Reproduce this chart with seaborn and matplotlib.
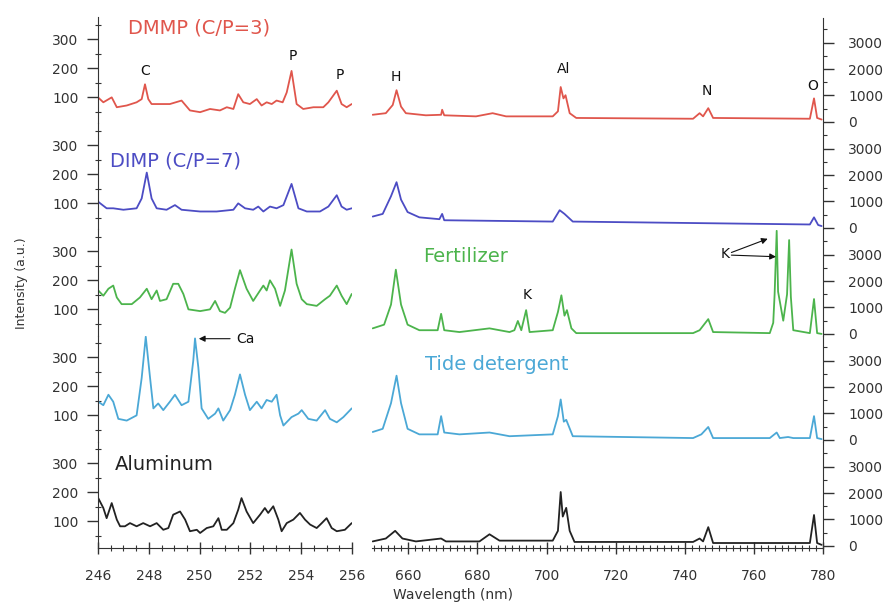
import matplotlib
matplotlib.use("Agg")
import matplotlib.pyplot as plt
from matplotlib.ticker import MultipleLocator
import pandas as pd
import seaborn as sns

# ---- spectra: 246-256 nm window (left axis, a.u.) ----
dmmp_uv_wl = [246.0, 246.21, 246.54, 246.74, 247.13, 247.52, 247.72, 247.85, 247.98, 248.11,
              248.44, 248.83, 249.29, 249.62, 250.02, 250.41, 250.80, 251.07, 251.33, 251.52,
              251.72, 251.98, 252.25, 252.44, 252.64, 252.84, 253.03, 253.27, 253.43, 253.62,
              253.82, 254.08, 254.48, 254.87, 255.07, 255.40, 255.59, 255.79, 255.99]
dmmp_uv_int = [100, 83, 100, 66, 72, 83, 94, 145, 94, 77,
               77, 77, 89, 55, 49, 60, 55, 66, 60, 111,
               83, 77, 94, 72, 83, 77, 89, 83, 117, 191,
               77, 60, 66, 66, 83, 123, 77, 66, 77]

dimp_uv_wl = [246.0, 246.34, 246.60, 247.00, 247.52, 247.72, 247.92, 248.11, 248.31, 248.70,
              249.03, 249.29, 250.02, 250.67, 251.33, 251.52, 251.79, 252.11, 252.31, 252.51,
              252.77, 253.03, 253.30, 253.62, 253.89, 254.22, 254.74, 255.07, 255.40, 255.59,
              255.79, 255.99]
dimp_uv_int = [106, 83, 83, 78, 83, 117, 206, 117, 83, 78,
               94, 78, 72, 72, 78, 100, 83, 78, 89, 72,
               89, 83, 94, 167, 83, 72, 72, 89, 128, 89,
               78, 83]

fert_uv_wl = [246.01, 246.21, 246.41, 246.60, 246.74, 246.93, 247.33, 247.65, 247.92, 248.11,
              248.31, 248.44, 248.70, 248.96, 249.16, 249.36, 249.56, 250.02, 250.41, 250.61,
              250.80, 251.00, 251.20, 251.39, 251.59, 251.85, 252.11, 252.38, 252.51, 252.64,
              252.77, 252.97, 253.17, 253.36, 253.62, 253.82, 254.02, 254.22, 254.61, 254.94,
              255.13, 255.40, 255.59, 255.79, 255.99]
fert_uv_int = [165, 147, 171, 182, 141, 118, 118, 141, 171, 135,
               165, 129, 135, 188, 188, 153, 100, 94, 100, 129,
               94, 88, 106, 171, 235, 171, 129, 165, 182, 165,
               200, 171, 112, 165, 306, 188, 135, 118, 112, 135,
               147, 182, 147, 118, 153]

tide_uv_wl = [246.01, 246.21, 246.41, 246.60, 246.80, 247.13, 247.52, 247.72, 247.88, 248.05,
              248.18, 248.37, 248.57, 248.83, 249.03, 249.29, 249.56, 249.75, 249.82, 249.95,
              250.08, 250.34, 250.61, 250.74, 250.93, 251.20, 251.39, 251.59, 251.79, 251.98,
              252.25, 252.44, 252.64, 252.84, 253.03, 253.17, 253.30, 253.62, 253.89, 254.02,
              254.28, 254.61, 254.94, 255.13, 255.40, 255.66, 255.99]
tide_uv_int = [147, 135, 171, 147, 88, 82, 100, 229, 371, 229,
               124, 141, 118, 147, 171, 135, 147, 288, 365, 265,
               124, 88, 106, 124, 82, 118, 171, 241, 171, 118,
               147, 124, 153, 147, 171, 100, 65, 94, 106, 118,
               88, 82, 118, 88, 76, 94, 124]

al_uv_wl = [246.01, 246.21, 246.34, 246.54, 246.74, 246.87, 247.06, 247.26, 247.52, 247.78,
            248.05, 248.31, 248.57, 248.77, 248.96, 249.23, 249.43, 249.62, 249.89, 250.02,
            250.28, 250.54, 250.74, 250.87, 251.07, 251.33, 251.52, 251.65, 251.85, 252.11,
            252.38, 252.57, 252.70, 252.90, 253.10, 253.23, 253.43, 253.69, 253.95, 254.15,
            254.35, 254.61, 254.81, 255.00, 255.20, 255.40, 255.72, 255.99]
al_uv_int = [180, 146, 111, 163, 106, 83, 83, 94, 83, 94,
             83, 94, 71, 77, 123, 134, 106, 66, 71, 60,
             77, 83, 111, 71, 71, 94, 140, 180, 134, 94,
             123, 146, 129, 152, 106, 66, 94, 106, 129, 106,
             89, 77, 94, 111, 77, 66, 71, 94]

# ---- spectra: 650-780 nm window (right axis, a.u.) ----
dmmp_vis_wl = [649.7, 653.5, 655.5, 656.6, 657.9, 659.3, 665.1, 669.5, 669.8, 670.4,
               679.6, 684.4, 688.3, 701.8, 703.3, 704.1, 704.9, 705.5, 706.7, 708.6,
               742.4, 744.3, 745.3, 746.8, 748.2, 776.2, 777.4, 778.3, 779.6]
dmmp_vis_int = [270, 330, 640, 1200, 580, 330, 250, 270, 460, 250,
                210, 330, 210, 210, 400, 1320, 890, 1010, 330, 150,
                120, 330, 210, 520, 150, 120, 890, 150, 90]

dimp_vis_wl = [649.7, 652.6, 655.0, 656.6, 657.9, 659.8, 663.2, 669.0, 669.8, 670.4,
               701.8, 703.8, 705.2, 707.6, 776.2, 777.4, 778.6, 779.6]
dimp_vis_int = [430, 530, 1200, 1730, 1070, 600, 400, 330, 530, 290,
                240, 670, 530, 240, 130, 400, 110, 70]

fert_vis_wl = [649.7, 653.0, 655.0, 656.4, 657.9, 659.8, 663.2, 668.5, 669.5, 670.4,
               674.8, 683.5, 689.3, 690.7, 691.7, 692.7, 694.1, 695.1, 701.8, 703.3,
               704.3, 705.2, 705.9, 707.2, 708.6, 742.4, 744.3, 746.8, 748.2, 764.6,
               765.6, 766.0, 766.6, 767.0, 768.5, 769.6, 770.2, 770.7, 771.4, 776.2,
               777.4, 778.3, 779.6]
fert_vis_int = [210, 350, 1110, 2430, 1110, 350, 140, 140, 760, 140,
                70, 210, 70, 140, 490, 140, 900, 70, 140, 830,
                1460, 690, 900, 210, 30, 30, 140, 560, 70, 30,
                420, 1500, 3900, 1600, 500, 1500, 3550, 1400, 140, 30,
                1320, 30, 0]

tide_vis_wl = [649.7, 652.6, 655.0, 656.6, 657.9, 659.8, 663.2, 668.5, 669.5, 670.4,
               674.8, 683.5, 689.3, 701.8, 703.3, 704.1, 705.0, 705.7, 707.6, 742.4,
               744.8, 746.8, 748.2, 764.6, 766.6, 767.5, 769.9, 771.4, 776.2, 777.4,
               778.3, 779.6]
tide_vis_int = [300, 420, 1390, 2430, 1390, 420, 210, 210, 900, 280,
                210, 280, 140, 210, 900, 1530, 690, 760, 140, 70,
                210, 490, 70, 70, 280, 70, 110, 70, 70, 900,
                70, 30]

al_vis_wl = [649.7, 653.5, 656.2, 658.3, 662.2, 669.5, 670.9, 680.6, 683.5, 686.4,
             701.8, 703.3, 704.1, 704.7, 705.7, 706.7, 708.1, 742.4, 744.3, 745.3,
             746.8, 748.2, 776.2, 777.4, 778.3, 779.6]
al_vis_int = [170, 280, 570, 280, 170, 280, 170, 170, 440, 200,
              200, 570, 2040, 1110, 1440, 570, 150, 150, 280, 170,
              710, 110, 110, 1170, 110, 40]

sample_names = ["DMMP (C/P=3)", "DIMP (C/P=7)", "Fertilizer", "Tide detergent", "Aluminum"]
sample_colors = ["#e0564c", "#4c4cc4", "#4cb44c", "#4ba8d6", "#222222"]

uv_series = [(dmmp_uv_wl, dmmp_uv_int), (dimp_uv_wl, dimp_uv_int), (fert_uv_wl, fert_uv_int),
             (tide_uv_wl, tide_uv_int), (al_uv_wl, al_uv_int)]
vis_series = [(dmmp_vis_wl, dmmp_vis_int), (dimp_vis_wl, dimp_vis_int), (fert_vis_wl, fert_vis_int),
              (tide_vis_wl, tide_vis_int), (al_vis_wl, al_vis_int)]

sns.set_style("ticks")
plt.rcParams["font.family"] = ["DejaVu Sans"]

W, H = 885, 603
fig = plt.figure(figsize=(W / 100, H / 100), dpi=100)

row_h = 106
tick_col = "#333333"
ax_uv, ax_vis = [], []
for r in range(5):
    bottom_px = 123.5 + row_h * r
    b = 1 - bottom_px / H
    a1 = fig.add_axes([98 / W, b, 254 / W, row_h / H])
    a2 = fig.add_axes([372 / W, b, 451 / W, row_h / H])
    for a in (a1, a2):
        a.set_facecolor("none")
    ax_uv.append(a1)
    ax_vis.append(a2)

for r in range(5):
    a1, a2 = ax_uv[r], ax_vis[r]
    wl, iv = uv_series[r]
    sns.lineplot(data=pd.DataFrame({"wl": wl, "I": iv}), x="wl", y="I", ax=a1,
                 color=sample_colors[r], lw=1.3, estimator=None, sort=False)
    wl, iv = vis_series[r]
    sns.lineplot(data=pd.DataFrame({"wl": wl, "I": iv}), x="wl", y="I", ax=a2,
                 color=sample_colors[r], lw=1.3, estimator=None, sort=False)

    a1.set_xlim(246, 256)
    a1.set_ylim(10, 375)
    a2.set_xlim(649.5, 780)
    a2.set_ylim(-60, 3950)
    for a in (a1, a2):
        a.set_xlabel("")
        a.set_ylabel("")

    # left intensity axis
    a1.spines[["top", "right"]].set_visible(False)
    a1.spines["left"].set_color("#333333")
    a1.set_yticks([100, 200, 300])
    a1.yaxis.set_minor_locator(MultipleLocator(50))
    a1.tick_params(axis="y", which="major", direction="out", length=8, width=1,
                   color=tick_col, labelsize=10, labelcolor=tick_col, pad=6)
    a1.tick_params(axis="y", which="minor", direction="inout", length=5, width=0.8,
                   color=tick_col)

    # right intensity axis
    a2.spines[["top", "left"]].set_visible(False)
    a2.spines["right"].set_color("#333333")
    a2.yaxis.tick_right()
    a2.set_yticks([0, 1000, 2000, 3000])
    a2.yaxis.set_minor_locator(MultipleLocator(500))
    a2.tick_params(axis="y", which="major", direction="out", length=8, width=1,
                   color=tick_col, labelsize=10, labelcolor=tick_col, pad=10)
    a2.tick_params(axis="y", which="minor", direction="out", length=3, width=0.8,
                   color=tick_col)

    if r < 4:
        for a in (a1, a2):
            a.spines["bottom"].set_visible(False)
            a.tick_params(axis="x", which="both", bottom=False, labelbottom=False)
    else:
        a1.set_xticks([246, 248, 250, 252, 254, 256])
        a1.xaxis.set_minor_locator(MultipleLocator(0.5))
        a2.set_xticks([660, 680, 700, 720, 740, 760, 780])
        a2.xaxis.set_minor_locator(MultipleLocator(2))
        for a in (a1, a2):
            a.spines["bottom"].set_color("#333333")
            a.tick_params(axis="x", which="major", direction="inout", length=9, width=1,
                          color=tick_col, labelsize=10, labelcolor=tick_col, pad=11)
            a.tick_params(axis="x", which="minor", direction="inout", length=5, width=0.8,
                          color=tick_col)

# sample names
name_pos = [(ax_uv[0], 0.118, 0.90), (ax_uv[1], 0.047, 0.646), (ax_vis[2], 0.113, 0.75),
            (ax_vis[3], 0.1175, 0.73), (ax_uv[4], 0.067, 0.78)]
for (a, x, y), name, col in zip(name_pos, sample_names, sample_colors):
    a.text(x, y, name, transform=a.transAxes, ha="left", va="center",
           fontsize=14, color=col)

# emission line labels
lab = dict(ha="center", va="center", fontsize=10, color="#111111")
ax_uv[0].text(247.85, 192, "C", **lab)
ax_uv[0].text(253.68, 243, "P", **lab)
ax_uv[0].text(255.53, 178, "P", **lab)
ax_vis[0].text(656.5, 1700, "H", **lab)
ax_vis[0].text(704.9, 2000, "Al", **lab)
ax_vis[0].text(746.4, 1185, "N", **lab)
ax_vis[0].text(777.1, 1370, "O", **lab)
ax_vis[2].text(694.5, 1460, "K", **lab)
ax_vis[2].text(751.6, 3040, "K", **lab)

arrow = dict(arrowstyle="-|>", color="#111111", lw=0.8, mutation_scale=9,
             shrinkA=0, shrinkB=0)
ax_vis[2].annotate("", xy=(764.0, 3600), xytext=(753.5, 3080), arrowprops=arrow)
ax_vis[2].annotate("", xy=(766.4, 2920), xytext=(753.5, 2980), arrowprops=arrow)

ax_uv[3].annotate("", xy=(249.97, 364), xytext=(251.2, 364), arrowprops=arrow)
ax_uv[3].text(251.45, 364, "Ca", ha="left", va="center", fontsize=10, color="#111111")

fig.text(22 / W, 1 - 283 / H, "Intensity (a.u.)", rotation=90, ha="center", va="center",
         fontsize=9, color="#333333")
fig.text(453 / W, 1 - 595 / H, "Wavelength (nm)", ha="center", va="center",
         fontsize=10, color="#333333")

fig.savefig("out.png", dpi=100)
